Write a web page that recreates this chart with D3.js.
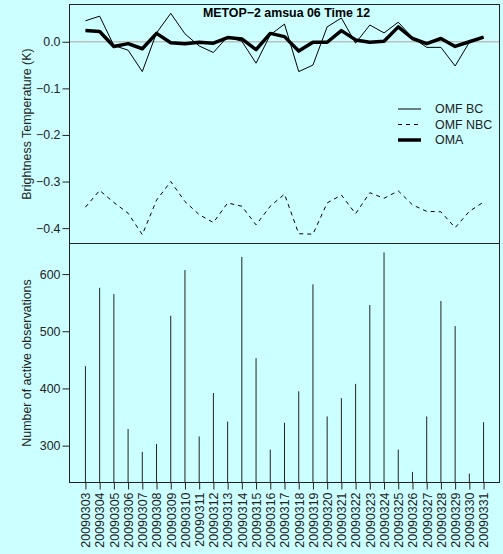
<!DOCTYPE html>
<html>
<head>
<meta charset="utf-8">
<script src="https://cdn.jsdelivr.net/npm/d3@7"></script>
<style>
  html, body { margin: 0; padding: 0; background: #ccffff; }
  svg { display: block; font-family: "Liberation Sans", Arial, Helvetica, sans-serif; }
</style>
</head>
<body>
<div id="chart"></div>
<script>
const dates = ["20090303", "20090304", "20090305", "20090306", "20090307", "20090308", "20090309",
  "20090310", "20090311", "20090312", "20090313", "20090314", "20090315", "20090316", "20090317",
  "20090318", "20090319", "20090320", "20090321", "20090322", "20090323", "20090324", "20090325",
  "20090326", "20090327", "20090328", "20090329", "20090330", "20090331"];

const omfBC = [0.045, 0.055, -0.008, -0.018, -0.064, 0.019, 0.061, 0.017, -0.009, -0.023,
  0.011, 0.001, -0.046, 0.015, 0.038, -0.064, -0.050, 0.032, 0.051, -0.003,
  0.036, 0.019, 0.042, 0.009, -0.012, -0.012, -0.052, -0.001, 0.010];

const omfNBC = [-0.355, -0.319, -0.345, -0.368, -0.414, -0.340, -0.300, -0.343, -0.371, -0.388,
  -0.346, -0.353, -0.393, -0.353, -0.327, -0.412, -0.413, -0.346, -0.329, -0.369,
  -0.324, -0.336, -0.320, -0.350, -0.364, -0.365, -0.399, -0.364, -0.344];

const oma = [0.024, 0.022, -0.010, -0.004, -0.015, 0.018, -0.002, -0.004, -0.001, -0.003,
  0.009, 0.006, -0.017, 0.018, 0.011, -0.020, -0.001, -0.001, 0.024, 0.004,
  -0.001, 0.001, 0.032, 0.007, -0.004, 0.007, -0.010, 0.000, 0.010];

const counts = [439, 576, 565, 329, 289, 303, 527, 607, 316, 392, 342, 630, 453, 293, 340,
  395, 582, 351, 383, 408, 546, 638, 293, 254, 351, 553, 509, 251, 341];

const tempTicks = [0, -0.1, -0.2, -0.3, -0.4];
const countTicks = [300, 400, 500, 600];
const title = "METOP\u22122 amsua 06 Time 12";

const width = 503, height = 554;
const pLeft = 69.5, pRight = 499.5, pTop = 4.5, pMid = 243.5, pBottom = 482.5;
const fontSize = 12.4;

const svg = d3.select("#chart").append("svg")
  .attr("width", width)
  .attr("height", height);

svg.append("rect").attr("width", width).attr("height", height).attr("fill", "#ccffff");

// R style: 4% padding on each side
function padded(ext) {
  const p = (ext[1] - ext[0]) * 0.04;
  return [ext[0] - p, ext[1] + p];
}

const x = d3.scalePoint().domain(dates).range([pLeft, pRight]).padding(1.12);

const yT = d3.scaleLinear()
  .domain(padded(d3.extent(omfBC.concat(omfNBC, oma))))
  .range([pMid, pTop]);

const yN = d3.scaleLinear()
  .domain(padded(d3.extent(counts)))
  .range([pBottom, pMid]);

// ---- top panel ----
const topG = svg.append("g");

topG.append("line")
  .attr("x1", pLeft).attr("x2", pRight)
  .attr("y1", yT(0)).attr("y2", yT(0))
  .attr("stroke", "#bebebe").attr("stroke-width", 1.5);

const line = d3.line().x((d, i) => x(dates[i])).y(d => yT(d));

topG.append("path").datum(omfBC)
  .attr("d", line).attr("fill", "none")
  .attr("stroke", "#000").attr("stroke-width", 1);

topG.append("path").datum(omfNBC)
  .attr("d", line).attr("fill", "none")
  .attr("stroke", "#000").attr("stroke-width", 1)
  .attr("stroke-dasharray", "4,4");

topG.append("path").datum(oma)
  .attr("d", line).attr("fill", "none")
  .attr("stroke", "#000").attr("stroke-width", 3.5)
  .attr("stroke-linejoin", "round");

topG.append("rect")
  .attr("x", pLeft).attr("y", pTop)
  .attr("width", pRight - pLeft).attr("height", pMid - pTop)
  .attr("fill", "none").attr("stroke", "#222");

topG.append("g")
  .attr("transform", `translate(${pLeft},0)`)
  .call(d3.axisLeft(yT).tickValues(tempTicks).tickFormat(d3.format(".1f")).tickSize(7).tickPadding(2))
  .call(g => g.select(".domain").remove())
  .call(g => g.selectAll("line").attr("stroke", "#222"))
  .call(g => g.selectAll("text").attr("font-size", fontSize).attr("fill", "#222").attr("font-family", null));

topG.append("text")
  .attr("x", (pLeft + pRight) / 2 + 2).attr("y", 16.5)
  .attr("text-anchor", "middle")
  .attr("font-weight", "bold")
  .attr("font-size", fontSize)
  .text(title);

topG.append("text")
  .attr("transform", `translate(31,${(pTop + pMid) / 2}) rotate(-90)`)
  .attr("text-anchor", "middle")
  .attr("font-size", fontSize).attr("fill", "#222")
  .text("Brightness Temperature (K)");

// legend
const legend = [
  { name: "OMF BC", w: 1, dash: null },
  { name: "OMF NBC", w: 1, dash: "4,4" },
  { name: "OMA", w: 3.5, dash: null }
];
const lg = topG.append("g").attr("transform", "translate(398,109)");
legend.forEach((d, i) => {
  lg.append("line")
    .attr("x1", 0).attr("x2", 23)
    .attr("y1", i * 15.5).attr("y2", i * 15.5)
    .attr("stroke", "#000").attr("stroke-width", d.w)
    .attr("stroke-dasharray", d.dash);
  lg.append("text")
    .attr("x", 37).attr("y", i * 15.5)
    .attr("dy", "0.35em")
    .attr("font-size", fontSize).attr("fill", "#222")
    .text(d.name);
});

// ---- bottom panel ----
const botG = svg.append("g");

botG.selectAll(".bar")
  .data(counts)
  .join("line")
  .attr("class", "bar")
  .attr("x1", (d, i) => x(dates[i])).attr("x2", (d, i) => x(dates[i]))
  .attr("y1", pBottom).attr("y2", d => yN(d))
  .attr("stroke", "#222").attr("stroke-width", 1);

botG.append("rect")
  .attr("x", pLeft).attr("y", pMid)
  .attr("width", pRight - pLeft).attr("height", pBottom - pMid)
  .attr("fill", "none").attr("stroke", "#222");

botG.append("g")
  .attr("transform", `translate(${pLeft},0)`)
  .call(d3.axisLeft(yN).tickValues(countTicks).tickSize(7).tickPadding(2))
  .call(g => g.select(".domain").remove())
  .call(g => g.selectAll("line").attr("stroke", "#222"))
  .call(g => g.selectAll("text").attr("font-size", fontSize).attr("fill", "#222").attr("font-family", null));

const xAxis = botG.append("g")
  .attr("transform", `translate(0,${pBottom})`)
  .call(d3.axisBottom(x).tickSize(7).tickPadding(3))
  .call(g => g.select(".domain").remove())
  .call(g => g.selectAll("line").attr("stroke", "#222"));

xAxis.selectAll("text")
  .attr("font-size", fontSize).attr("fill", "#222").attr("font-family", null)
  .attr("transform", "rotate(-90)")
  .attr("text-anchor", "end")
  .attr("x", -10).attr("y", 0)
  .attr("dy", "0.35em");

botG.append("text")
  .attr("transform", `translate(31,${(pMid + pBottom) / 2}) rotate(-90)`)
  .attr("text-anchor", "middle")
  .attr("font-size", fontSize).attr("fill", "#222")
  .text("Number of active observations");
</script>
</body>
</html>
